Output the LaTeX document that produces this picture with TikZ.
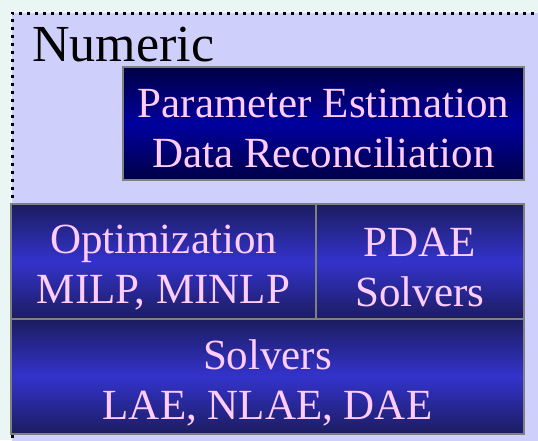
\documentclass[tikz,border=0pt]{standalone}
\usepackage{fontspec}
\setmainfont{Liberation Serif}
\usetikzlibrary{positioning, calc}

\definecolor{pageMint}{HTML}{EAF6F4}
\definecolor{frameLav}{HTML}{CFCFFC}
\definecolor{navyDark}{HTML}{000046}
\definecolor{navyMid}{HTML}{00009E}
\definecolor{blueDark}{HTML}{1C1C60}
\definecolor{blueMid}{HTML}{3333CC}
\definecolor{labelPink}{HTML}{FFCCFF}
\definecolor{edgeGray}{HTML}{808080}

\begin{document}
\begin{tikzpicture}[
  x=1pt, y=-1pt,
  boxtext/.style={text=labelPink, align=center, inner sep=0pt, outer sep=0pt,
    font=\fontsize{43}{50}\selectfont},
  topbox/.style={draw=edgeGray, line width=1.5pt, outer sep=0pt,
    top color=navyDark, bottom color=navyDark, middle color=navyMid},
  lowbox/.style={draw=edgeGray, line width=1.5pt, outer sep=0pt,
    top color=blueDark, bottom color=blueDark, middle color=blueMid},
]

% ---- 1. page and dotted frame ----
\path[use as bounding box, clip] (0,0) rectangle (538,440);
\fill[pageMint] (0,0) rectangle (538,440);
\fill[frameLav] (12,13) rectangle (560,460);
\draw[black, line width=3pt, dash pattern=on 3pt off 5pt]
  (12,470) -- (12,13) -- (560,13);

\node[anchor=base west, inner sep=0pt, font=\fontsize{52}{60}\selectfont]
  (numeric) at (32,61) {Numeric};

% ---- 2. top box ----
\pgfmathsetmacro{\bh}{115}      % row height of the lower boxes
\node[topbox, anchor=north west, minimum width=401pt, minimum height=113pt]
  (paramest) at (123,67) {};
\node[boxtext] (paramestText) at ([yshift=-5pt]paramest.center)
  {Parameter Estimation\\Data Reconciliation};

% ---- 3. lower rows ----
\node[lowbox, anchor=north west, minimum width=305pt, minimum height=\bh pt]
  (optim) at (11,204) {};
\node[lowbox, right=0pt of optim, minimum width=208pt, minimum height=\bh pt]
  (pdae) {};
\node[lowbox, anchor=north west, minimum width=513pt, minimum height=\bh pt]
  (solvers) at (optim.south west) {};

\node[boxtext] (optimText) at ([yshift=-6pt]optim.center)
  {Optimization\\MILP, MINLP};
\node[boxtext] (pdaeText) at ([yshift=-6pt]pdae.center)
  {PDAE\\Solvers};
\node[boxtext] (solversText) at ([yshift=-6pt]solvers.center)
  {Solvers\\LAE, NLAE, DAE};

\end{tikzpicture}
\end{document}
